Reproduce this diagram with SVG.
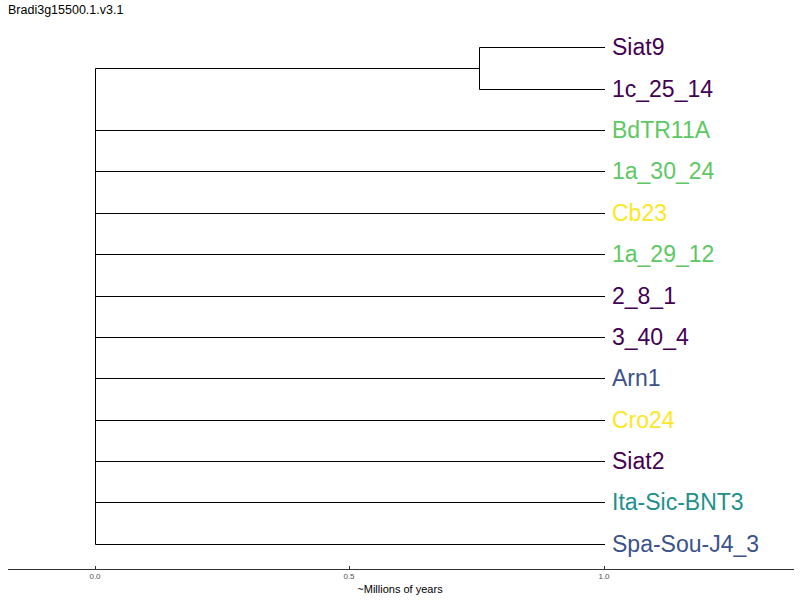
<svg xmlns="http://www.w3.org/2000/svg" width="800" height="600" viewBox="0 0 800 600">
<style>
.br{stroke:#000;stroke-width:1;fill:none}
.lab{font-family:"Liberation Sans",Arial,sans-serif;font-size:23px}
.tick{font-family:"Liberation Sans",Arial,sans-serif;font-size:8px;fill:#4d4d4d;text-anchor:middle}
.p{fill:#440154}.b{fill:#3B528B}.t{fill:#21908C}.g{fill:#5DC863}.y{fill:#FDE725}
</style>
<rect width="800" height="600" fill="#fff"/>
<text x="8" y="14" font-family="Liberation Sans,Arial,sans-serif" font-size="12.5" fill="#000">Bradi3g15500.1.v3.1</text>
<g id="connectors">
<path class="br" d="M95.5,68.5V544.5"/>
<path class="br" d="M95.5,68.5H479.5"/>
<path class="br" d="M479.5,47.5V89.5"/>
<path class="br" d="M479.5,47.5H605"/>
<path class="br" d="M479.5,89.5H605"/>
<path class="br" d="M95.5,130.5H605"/>
<path class="br" d="M95.5,171.5H605"/>
<path class="br" d="M95.5,213.5H605"/>
<path class="br" d="M95.5,254.5H605"/>
<path class="br" d="M95.5,296.5H605"/>
<path class="br" d="M95.5,337.5H605"/>
<path class="br" d="M95.5,378.5H605"/>
<path class="br" d="M95.5,420.5H605"/>
<path class="br" d="M95.5,461.5H605"/>
<path class="br" d="M95.5,502.5H605"/>
<path class="br" d="M95.5,544.5H605"/>
</g>
<g id="leaf-Siat9"><text class="lab p" x="612" y="55">Siat9</text></g>
<g id="leaf-1c_25_14"><text class="lab p" x="612" y="97">1c_25_14</text></g>
<g id="leaf-BdTR11A"><text class="lab g" x="612" y="138">BdTR11A</text></g>
<g id="leaf-1a_30_24"><text class="lab g" x="612" y="179">1a_30_24</text></g>
<g id="leaf-Cb23"><text class="lab y" x="612" y="221">Cb23</text></g>
<g id="leaf-1a_29_12"><text class="lab g" x="612" y="262">1a_29_12</text></g>
<g id="leaf-2_8_1"><text class="lab p" x="612" y="304">2_8_1</text></g>
<g id="leaf-3_40_4"><text class="lab p" x="612" y="345">3_40_4</text></g>
<g id="leaf-Arn1"><text class="lab b" x="612" y="386">Arn1</text></g>
<g id="leaf-Cro24"><text class="lab y" x="612" y="428">Cro24</text></g>
<g id="leaf-Siat2"><text class="lab p" x="612" y="469">Siat2</text></g>
<g id="leaf-Ita-Sic-BNT3"><text class="lab t" x="612" y="510">Ita-Sic-BNT3</text></g>
<g id="leaf-Spa-Sou-J4_3"><text class="lab b" x="612" y="552">Spa-Sou-J4_3</text></g>
<g id="axis">
<path d="M8,569.5H794" stroke="#333" stroke-width="1"/>
<path d="M95.5,566V569M349.5,566V569M604.5,566V569" stroke="#333" stroke-width="1"/>
<text class="tick" x="95" y="579">0.0</text>
<text class="tick" x="349" y="579">0.5</text>
<text class="tick" x="604" y="579">1.0</text>
<text x="400" y="593" font-family="Liberation Sans,Arial,sans-serif" font-size="11" fill="#000" text-anchor="middle">~Millions of years</text>
</g>
</svg>
